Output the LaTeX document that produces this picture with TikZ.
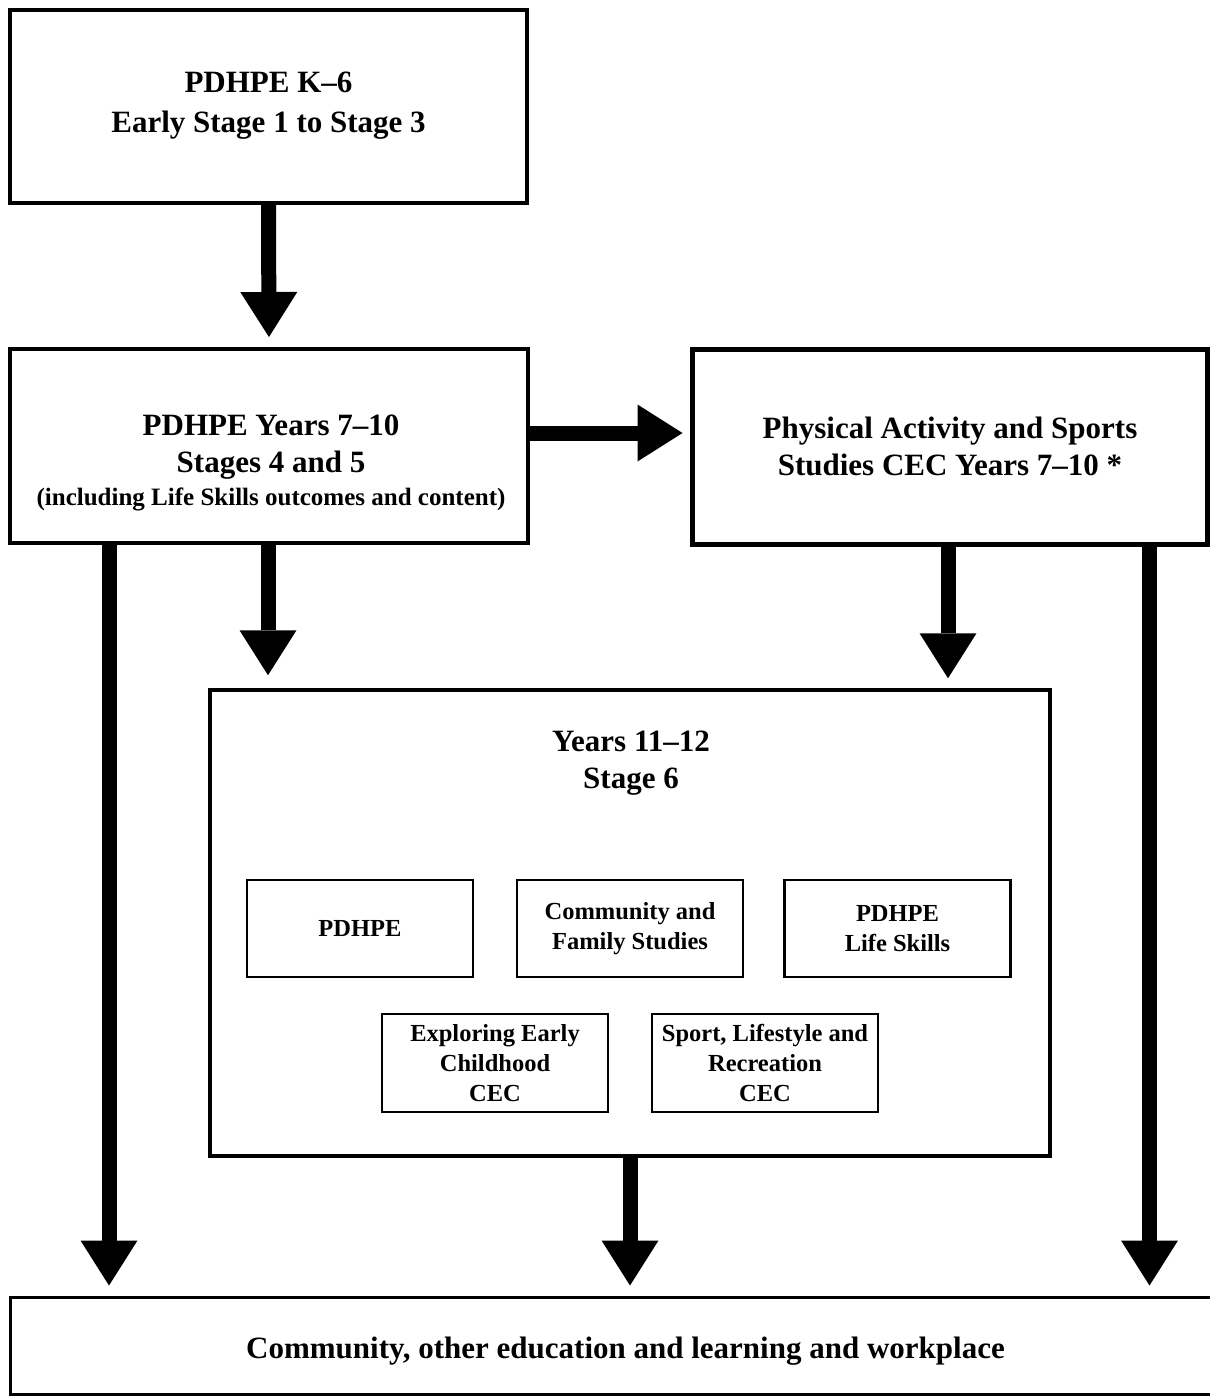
\documentclass[tikz,border=0pt]{standalone}
\usepackage{fontspec}
\setmainfont{Liberation Serif}
\usetikzlibrary{arrows.meta}
\tikzset{
  bigbox/.style={draw, line width=4pt, minimum width=#1, inner sep=0pt},
  innerbox/.style={draw, line width=2.5pt, minimum width=226pt, minimum height=97pt, inner sep=0pt,
    align=center, font=\bfseries\fontsize{24.5}{30}\selectfont},
  bigtext/.style={align=center, inner sep=0pt, font=\bfseries\fontsize{31}{37}\selectfont},
  fat/.style={line width=15pt, -{Triangle[width=57pt,length=45pt,line width=0pt]}},
}
\begin{document}
\begin{tikzpicture}[x=1pt,y=-1pt]
\useasboundingbox (0,0) rectangle (1209,1396);
% boxes
\node[bigbox=517pt, minimum height=193pt] (top) at (268.5,106.5) {};
\node[bigbox=518pt, minimum height=194pt] (b2) at (269,446) {};
\node[bigbox=515pt, minimum height=195pt, line width=5pt] (pass) at (949.5,446.5) {};
\node[bigbox=840pt, minimum height=466pt, line width=3.5pt] (s6) at (630,923) {};
\node[bigbox=1205pt, minimum height=97pt, line width=3pt] (bot) at (612.5,1345.5) {};
% texts
\node[bigtext, font=\bfseries\fontsize{31}{40}\selectfont] (toptext) at (268.5,106) {PDHPE K–6\\Early Stage 1 to Stage 3};
\node[bigtext] (b2text) at (271,463) {PDHPE Years 7–10\\Stages 4 and 5\\[-4pt]{\fontsize{25}{30}\selectfont(including Life Skills outcomes and content)}};
\node[bigtext] (passtext) at (950,446) {Physical Activity and Sports\\Studies CEC Years 7–10 *};
\node[bigtext] (s6text) at (631,763) {Years 11–12\\Stage 6};
\node[bigtext] (bottext) at (625.5,1351) {Community, other education and learning and workplace};
% inner boxes
\node[innerbox] (i1) at (360,928.5) {PDHPE};
\node[innerbox] (i2) at (630,928.5) {Community and\\Family Studies};
\node[innerbox] (i3) at (897.5,928.5) {PDHPE\\Life Skills};
\node[innerbox, minimum height=98pt] (i4) at (495,1063) {Exploring Early\\Childhood\\CEC};
\node[innerbox, minimum height=98pt] (i5) at (765,1063) {Sport, Lifestyle and\\Recreation\\CEC};
% connector points
\coordinate (l1) at ([xshift=101pt]b2.south west);
\coordinate (r1) at ([xshift=-60pt]pass.south east);
\coordinate (p1) at ([xshift=-1.5pt]pass.south);
% arrows
\draw[fat, shorten >=10pt] (top.south) -- (b2.north);
\draw[fat, shorten >=7pt] ([yshift=13pt]b2.east) -- ([yshift=13pt]b2.east -| pass.west);
\draw[fat, shorten >=13pt] ([xshift=-1pt]b2.south) -- ([xshift=-1pt]b2.south |- s6.north);
\draw[fat, shorten >=10pt] (p1) -- (p1 |- s6.north);
\draw[fat, shorten >=10pt] (l1) -- (l1 |- bot.north);
\draw[fat, shorten >=10pt] (r1) -- (r1 |- bot.north);
\draw[fat, shorten >=10pt] (s6.south) -- (s6.south |- bot.north);
\end{tikzpicture}
\end{document}
